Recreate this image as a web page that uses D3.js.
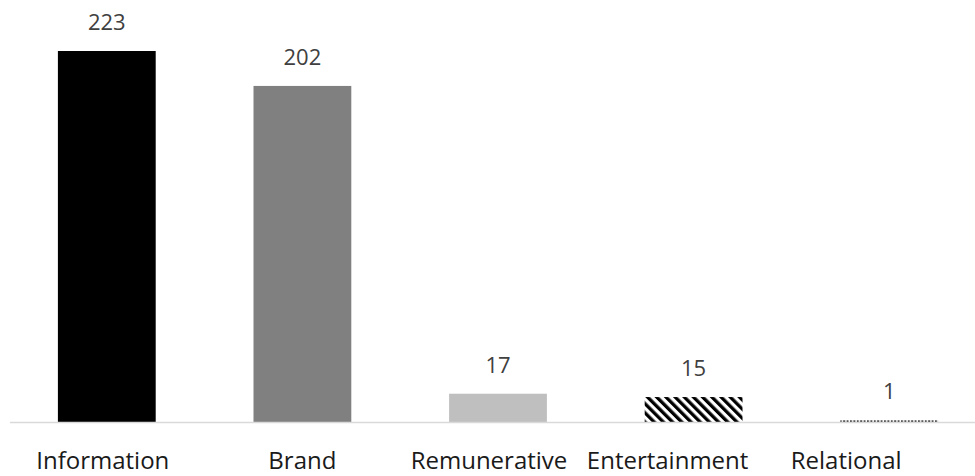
<!DOCTYPE html>
<html>
<head>
<meta charset="utf-8">
<script src="https://cdn.jsdelivr.net/npm/d3@7"></script>
<style>
  html, body { margin: 0; padding: 0; background: #fff; }
  svg { display: block; font-family: "Open Sans", sans-serif; }
</style>
</head>
<body>
<div id="chart"></div>
<script>
// Chart data
const categories = ["Information", "Brand", "Remunerative", "Entertainment", "Relational"];
const counts = [223, 202, 17, 15, 1];
const fills = ["#000000", "#808080", "#bfbfbf", "url(#hatch)", "url(#dots)"];

const width = 975;
const height = 476;
const baseline = 422;

// Category labels in the source sit a bit left of their bars
const labelNudge = [-4, 0, -9, -26, -43];

const svg = d3.select("#chart")
  .append("svg")
  .attr("width", width)
  .attr("height", height);

const defs = svg.append("defs");

// Diagonal hatch for Entertainment
const hatch = defs.append("pattern")
  .attr("id", "hatch")
  .attr("patternUnits", "userSpaceOnUse")
  .attr("width", 6.5)
  .attr("height", 6.5)
  .attr("patternTransform", "rotate(-45)");
hatch.append("rect")
  .attr("width", 3.3)
  .attr("height", 6.5)
  .attr("fill", "#000");

// Dotted fill for the tiny Relational bar
const dots = defs.append("pattern")
  .attr("id", "dots")
  .attr("patternUnits", "userSpaceOnUse")
  .attr("width", 3.4)
  .attr("height", 4);
dots.append("rect")
  .attr("width", 2)
  .attr("height", 4)
  .attr("fill", "#333");

const x = d3.scaleBand()
  .domain(categories)
  .range([9, 987])
  .paddingInner(0.5)
  .paddingOuter(0.25);

const y = d3.scaleLinear()
  .domain([0, 223])
  .range([baseline, 51]);

const data = categories.map((c, i) => ({ name: c, value: counts[i], fill: fills[i], nudge: labelNudge[i] }));

// Bars
svg.selectAll("rect.bar")
  .data(data)
  .enter()
  .append("rect")
  .attr("class", "bar")
  .attr("x", d => x(d.name))
  .attr("y", d => y(d.value))
  .attr("width", x.bandwidth())
  .attr("height", d => baseline - y(d.value))
  .attr("fill", d => d.fill);

// Baseline
svg.append("line")
  .attr("x1", 10)
  .attr("x2", width)
  .attr("y1", baseline + 0.5)
  .attr("y2", baseline + 0.5)
  .attr("stroke", "#d9d9d9")
  .attr("stroke-width", 1.5);

// Value labels
svg.selectAll("text.value")
  .data(data)
  .enter()
  .append("text")
  .attr("class", "value")
  .attr("x", d => x(d.name) + x.bandwidth() / 2)
  .attr("y", d => y(d.value) - 21)
  .attr("text-anchor", "middle")
  .attr("fill", "#404040")
  .style("font-size", "22px")
  .text(d => d.value);

// Category labels
svg.selectAll("text.cat")
  .data(data)
  .enter()
  .append("text")
  .attr("class", "cat")
  .attr("x", d => x(d.name) + x.bandwidth() / 2 + d.nudge)
  .attr("y", 469)
  .attr("text-anchor", "middle")
  .attr("fill", "#1a1a1a")
  .style("font-size", "24px")
  .text(d => d.name);
</script>
</body>
</html>
